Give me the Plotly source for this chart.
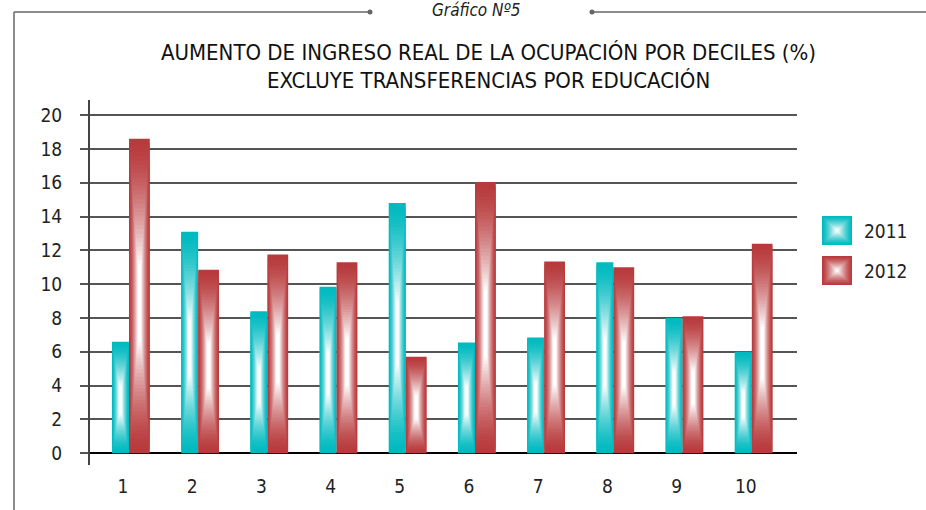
import plotly.graph_objects as go

# ---------------- data ----------------
deciles = ["1", "2", "3", "4", "5", "6", "7", "8", "9", "10"]
series_names = ["2011", "2012"]
values_2011 = [6.6, 13.1, 8.4, 9.85, 14.8, 6.55, 6.85, 11.3, 8.0, 6.0]
values_2012 = [18.6, 10.85, 11.75, 11.3, 5.7, 16.05, 11.35, 11.0, 8.1, 12.4]
y_ticks = [0, 2, 4, 6, 8, 10, 12, 14, 16, 18, 20]

title_line1 = "AUMENTO DE INGRESO REAL DE LA OCUPACIÓN POR DECILES (%)"
title_line2 = "EXCLUYE TRANSFERENCIAS POR EDUCACIÓN"
header_text = "Gráfico Nº5"

# ---------------- style ----------------
W, H = 926, 510
ML, MR, MT, MB = 90, 129, 100, 45
PW, PH = W - ML - MR, H - MT - MB
FONT = "Liberation Sans Narrow, DejaVu Sans Condensed, Roboto Condensed, Arial Narrow, sans-serif"

teal_edge = (0, 186, 192)
red_edge = (184, 58, 60)
white = (255, 255, 255)


def mix(c, t):
    return "rgb(%d,%d,%d)" % tuple(round(a + (b - a) * t) for a, b in zip(c, white))


def px(x):
    return (x - ML) / PW


def py(y):
    return (H - MB - y) / PH


fig = go.Figure()

N = 30
hc = 0.47
series = [
    (series_names[0], values_2011, teal_edge, -0.16, 0.246),
    (series_names[1], values_2012, red_edge, 0.087, 0.300),
]
for name, vals, edge, off, wid in series:
    for k in range(N):
        t = k / (N - 1)
        wf = 1 - 0.85 * t
        w = wid * wf
        o = off + (wid - w) / 2
        bottoms = [v * hc * 0.75 * t for v in vals]
        tops = [v * (hc + (1 - hc) * (1 - 0.75 * t)) for v in vals]
        fig.add_trace(go.Bar(
            x=deciles,
            y=[tp - b for tp, b in zip(tops, bottoms)],
            base=bottoms,
            width=w,
            offset=o,
            marker=dict(color=mix(edge, t ** 1.5), line=dict(width=0)),
            name=name,
            showlegend=False,
            hoverinfo="skip",
        ))

shapes = []
# frame lines and header
shapes.append(dict(type="line", xref="paper", yref="paper", x0=px(14), x1=px(14), y0=py(12), y1=py(512),
                   line=dict(color="#666", width=1.5)))
shapes.append(dict(type="line", xref="paper", yref="paper", x0=px(14), x1=px(370), y0=py(12), y1=py(12),
                   line=dict(color="#666", width=1.5)))
shapes.append(dict(type="line", xref="paper", yref="paper", x0=px(592), x1=px(926), y0=py(12), y1=py(12),
                   line=dict(color="#666", width=1.5)))
for cx in (370, 592):
    shapes.append(dict(type="circle", xref="paper", yref="paper", x0=px(cx - 2.5), x1=px(cx + 2.5),
                       y0=py(12 - 2.5), y1=py(12 + 2.5), fillcolor="#666", line=dict(width=0)))

# legend swatches (radial gradient squares)
legend_items = [(series_names[0], teal_edge, 216), (series_names[1], red_edge, 256)]
annotations = []
for name, edge, top in legend_items:
    x0, x1, y0, y1 = 822, 852, top, top + 29
    cx, cy = (x0 + x1) / 2, (y0 + y1) / 2
    M = 16
    for k in range(M):
        t = k / (M - 1)
        s = 1 - 0.94 * t
        hw, hh = (x1 - x0) / 2 * s, (y1 - y0) / 2 * s
        shapes.append(dict(type="rect", xref="paper", yref="paper",
                           x0=px(cx - hw), x1=px(cx + hw), y0=py(cy + hh), y1=py(cy - hh),
                           fillcolor=mix(edge, t ** 1.3), line=dict(width=0)))
    annotations.append(dict(xref="paper", yref="paper", x=px(862), y=py(cy), xanchor="left", yanchor="middle",
                            text=name, showarrow=False, font=dict(family=FONT, size=19, color="#222")))

annotations.append(dict(xref="paper", yref="paper", x=px(476), y=py(10), xanchor="center", yanchor="middle",
                        text="<i>" + header_text + "</i>", showarrow=False,
                        font=dict(family=FONT, size=17, color="#222")))
annotations.append(dict(xref="paper", yref="paper", x=px(489), y=py(52), xanchor="center", yanchor="middle",
                        text=title_line1, showarrow=False, font=dict(family=FONT, size=22, color="#111")))
annotations.append(dict(xref="paper", yref="paper", x=px(489), y=py(80), xanchor="center", yanchor="middle",
                        text=title_line2, showarrow=False, font=dict(family=FONT, size=22, color="#111")))

fig.update_layout(
    width=W, height=H,
    margin=dict(l=ML, r=MR, t=MT, b=MB),
    paper_bgcolor="white", plot_bgcolor="white",
    barmode="overlay",
    showlegend=False,
    shapes=shapes,
    annotations=annotations,
    xaxis=dict(type="category", range=[-0.477, 9.74], showgrid=False, showline=False, ticks="",
               tickfont=dict(family=FONT, size=19, color="#222"), ticklabelstandoff=8),
    yaxis=dict(range=[-0.7, 20.9], tickvals=y_ticks, showgrid=True, gridcolor="#555", gridwidth=1.5,
               zeroline=True, zerolinecolor="#000", zerolinewidth=2,
               showline=True, linecolor="#444", linewidth=2,
               ticks="outside", ticklen=8, tickcolor="#555", tickwidth=1.5,
               tickfont=dict(family=FONT, size=19, color="#222"), ticklabelstandoff=14),
)

fig.write_html("out.html", config={"displayModeBar": False},
               post_script="document.body.style.margin='0';")
